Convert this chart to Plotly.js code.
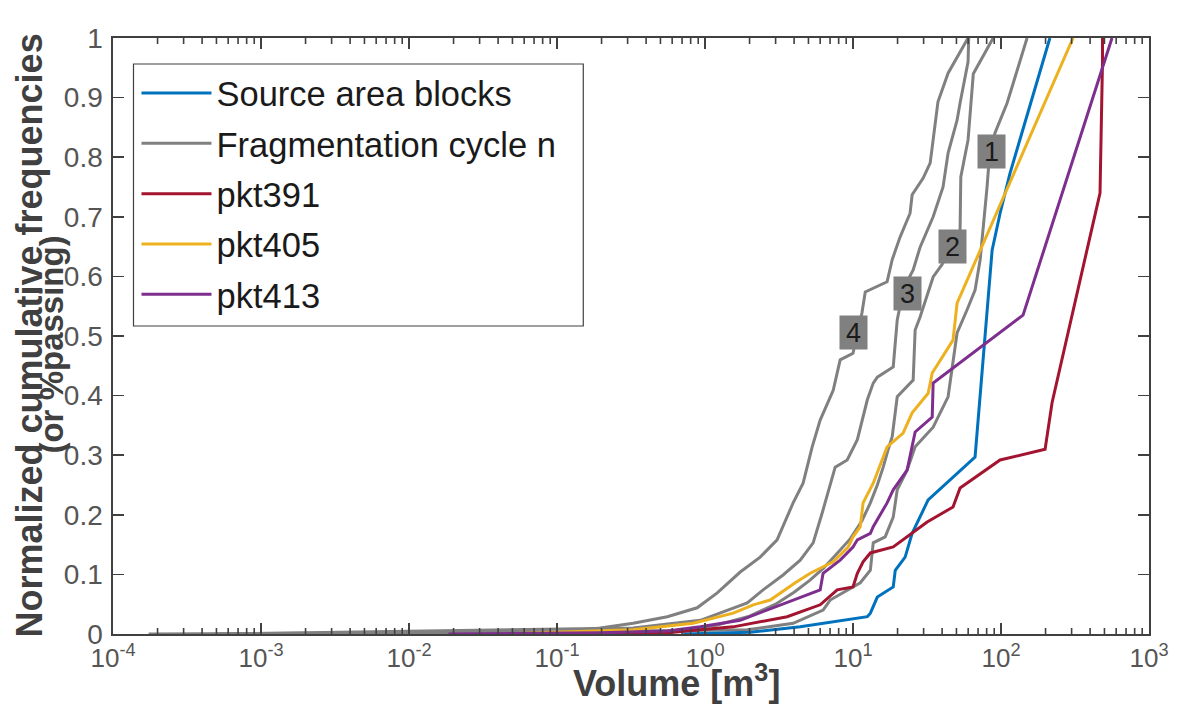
<!DOCTYPE html>
<html>
<head>
<meta charset="utf-8">
<script src="https://cdn.plot.ly/plotly-3.0.1.min.js"></script>
<style>html,body{margin:0;padding:0;background:#fff;}#chart{width:1180px;height:706px;}</style>
</head>
<body>
<div id="chart"></div>
<script>
// ---- data (volume in m^3, normalized cumulative frequency) ----
const cycle4V = [1.74e-4, 0.105, 0.196, 0.327, 0.556, 0.885, 1.21, 1.73, 2.36, 3.07, 3.94, 4.60, 5.30, 6.00, 7.35, 8.19, 10.0, 11.5, 12.1, 17.0, 18.4, 20.8, 24.3, 25.1, 29.8, 33.2, 34.3, 37.5, 43.9, 52.9, 59.9];
const cycle4F = [0, 0.003, 0.010, 0.018, 0.029, 0.044, 0.069, 0.104, 0.129, 0.158, 0.220, 0.253, 0.314, 0.359, 0.409, 0.460, 0.471, 0.539, 0.574, 0.591, 0.628, 0.666, 0.706, 0.737, 0.765, 0.790, 0.817, 0.893, 0.941, 0.975, 1.0];

const cycle3V = [5e-4, 0.327, 0.929, 1.93, 2.47, 3.37, 4.40, 5.38, 6.19, 7.01, 7.58, 9.14, 10.7, 12.5, 13.7, 14.6, 18.7, 19.9, 22.0, 25.5, 28.4, 34.8, 40.6, 43.9, 50.5, 52.9, 59.9, 60.5];
const cycle3F = [0, 0.010, 0.023, 0.052, 0.074, 0.099, 0.124, 0.153, 0.203, 0.253, 0.280, 0.292, 0.326, 0.393, 0.421, 0.431, 0.448, 0.527, 0.580, 0.611, 0.649, 0.700, 0.750, 0.807, 0.862, 0.891, 0.960, 1.0];

const cycle2V = [2e-3, 0.6, 1.21, 2.0, 3.0, 4.0, 5.1, 6.3, 7.8, 9.6, 11.5, 13.1, 14.6, 16.0, 17.3, 18.4, 19.9, 25.5, 26.3, 28.4, 34.8, 40.0, 52.9, 53.5, 59.9, 63.8, 65.0, 88.5];
const cycle2F = [0, 0.005, 0.015, 0.030, 0.050, 0.070, 0.090, 0.110, 0.135, 0.160, 0.190, 0.220, 0.250, 0.280, 0.310, 0.331, 0.398, 0.426, 0.510, 0.532, 0.599, 0.620, 0.678, 0.767, 0.829, 0.904, 0.940, 1.0];

const cycle1V = [1e-2, 1.93, 3.94, 6.28, 7.01, 8.58, 11.2, 13.1, 13.7, 16.5, 18.7, 19.9, 23.2, 26.3, 34.8, 43.9, 50.5, 59.0, 66.8, 72.3, 75.7, 80.5, 84.0, 91.2, 110, 150];
const cycle1F = [0, 0.007, 0.018, 0.040, 0.057, 0.069, 0.086, 0.107, 0.153, 0.163, 0.196, 0.242, 0.275, 0.314, 0.347, 0.398, 0.505, 0.544, 0.577, 0.628, 0.678, 0.750, 0.810, 0.841, 0.891, 1.0];

const sourceV = [0.713, 1.21, 2.02, 4.40, 12.5, 13.1, 14.6, 18.7, 19.3, 22.5, 25.1, 32.2, 66.8, 87.1, 98.6, 115, 214];
const sourceF = [0, 0.002, 0.003, 0.012, 0.029, 0.035, 0.062, 0.079, 0.107, 0.129, 0.169, 0.225, 0.297, 0.644, 0.706, 0.773, 1.0];

const pkt391V = [0.0565, 0.556, 1.55, 3.59, 6.0, 7.82, 10.0, 10.7, 11.7, 13.1, 18.7, 31.7, 47.4, 52.9, 98.6, 198.6, 221.3, 466.7, 485, 485];
const pkt391F = [0, 0.002, 0.012, 0.029, 0.049, 0.074, 0.079, 0.102, 0.121, 0.136, 0.146, 0.188, 0.213, 0.245, 0.292, 0.310, 0.388, 0.740, 0.960, 1.0];

const pkt405V = [0.0414, 0.105, 0.327, 0.832, 1.55, 2.12, 2.76, 4.07, 5.14, 7.35, 9.28, 10.0, 11.2, 11.7, 13.7, 17.0, 21.8, 25.1, 32.2, 34.3, 47.4, 50.5, 306.8];
const pkt405F = [0, 0.003, 0.007, 0.018, 0.035, 0.049, 0.057, 0.086, 0.102, 0.121, 0.146, 0.163, 0.180, 0.220, 0.253, 0.314, 0.337, 0.371, 0.404, 0.438, 0.493, 0.555, 1.0];

const pkt413V = [0.01846, 0.196, 0.556, 0.929, 1.73, 2.63, 3.59, 4.60, 6.0, 6.28, 8.19, 10.0, 10.7, 13.1, 13.7, 17.0, 18.7, 23.2, 26.3, 34.3, 34.8, 140.9, 562.3];
const pkt413F = [0, 0.002, 0.005, 0.012, 0.023, 0.040, 0.052, 0.062, 0.074, 0.102, 0.124, 0.146, 0.158, 0.169, 0.180, 0.220, 0.242, 0.275, 0.339, 0.364, 0.421, 0.535, 1.0];

const seriesNames = ["Source area blocks", "Fragmentation cycle n", "pkt391", "pkt405", "pkt413"];
const cycleLabels = ["1", "2", "3", "4"];
const cycleLabelX = [86.3, 46.8, 23.4, 10.1];
const cycleLabelY = [0.810, 0.651, 0.571, 0.506];
const xTickVals = [1e-4, 1e-3, 1e-2, 1e-1, 1e0, 1e1, 1e2, 1e3];
const xTickText = ["10<sup>-4</sup>", "10<sup>-3</sup>", "10<sup>-2</sup>", "10<sup>-1</sup>", "10<sup>0</sup>", "10<sup>1</sup>", "10<sup>2</sup>", "10<sup>3</sup>"];
const xTitle = "Volume [m<sup>3</sup>]";
const yTitle1 = "Normalized cumulative frequencies";
const yTitle2 = "(or %passing)";

// ---- styling ----
const GRAY = "#808080", BLUE = "#0072BD", RED = "#A2142F", YELLOW = "#EDB120", PURPLE = "#7E2F8E";
const LW = 3;
const FONT = "Liberation Sans, Arial, sans-serif";
const AX = "#404040";
const W = 1180, H = 706, ML = 112.5, MR = 31, MT = 38, MB = 72;
const PW = W - ML - MR, PH = H - MT - MB;
const px2paperX = p => (p - ML) / PW;
const px2paperY = p => (H - MB - p) / PH;

function tr(x, y, name, color, show, rank, group) {
  return {x: x, y: y, type: "scatter", mode: "lines", name: name, legendgroup: group,
    line: {color: color, width: LW}, showlegend: show, legendrank: rank, hoverinfo: "skip"};
}
const traces = [
  tr(cycle4V, cycle4F, seriesNames[1], GRAY, false, 2, "g2"),
  tr(cycle3V, cycle3F, seriesNames[1], GRAY, false, 2, "g2"),
  tr(cycle2V, cycle2F, seriesNames[1], GRAY, false, 2, "g2"),
  tr(cycle1V, cycle1F, seriesNames[1], GRAY, true, 2, "g2"),
  tr(sourceV, sourceF, seriesNames[0], BLUE, true, 1, "g1"),
  tr(pkt391V, pkt391F, seriesNames[2], RED, true, 3, "g3"),
  tr(pkt405V, pkt405F, seriesNames[3], YELLOW, true, 4, "g4"),
  tr(pkt413V, pkt413F, seriesNames[4], PURPLE, true, 5, "g5")
];

const annotations = cycleLabels.map((t, i) => ({
  x: Math.log10(cycleLabelX[i]), y: cycleLabelY[i], xref: "x", yref: "y", text: t, showarrow: false,
  font: {family: FONT, size: 27, color: "#1a1a1a"},
  bgcolor: GRAY, width: 23, height: 29, borderpad: 2, align: "center", valign: "middle"
}));
annotations.push({
  xref: "paper", yref: "paper", x: px2paperX(28), y: px2paperY(336), xanchor: "center", yanchor: "middle",
  text: yTitle1, textangle: -90, showarrow: false,
  font: {family: FONT, size: 36, color: AX, weight: "bold"}
});
annotations.push({
  xref: "paper", yref: "paper", x: px2paperX(50), y: px2paperY(345), xanchor: "center", yanchor: "middle",
  text: yTitle2, textangle: -90, showarrow: false,
  font: {family: FONT, size: 33, color: AX, weight: "bold"}
});
annotations.push({
  xref: "paper", yref: "paper", x: px2paperX(676), y: px2paperY(681), xanchor: "center", yanchor: "middle",
  text: xTitle, showarrow: false,
  font: {family: FONT, size: 36, color: AX, weight: "bold"}
});

// legend frame
const shapes = [{
  type: "rect", xref: "paper", yref: "paper", layer: "above",
  x0: px2paperX(133), x1: px2paperX(583), y0: px2paperY(326), y1: px2paperY(64),
  line: {color: AX, width: 1.2}, fillcolor: "#ffffff"
}];
// minor log ticks (2..9 of each decade), bottom and top, inside the frame
const minorLen = 6 / PH;
for (let e = -4; e < 3; e++) {
  for (let m = 2; m <= 9; m++) {
    const v = m * Math.pow(10, e);
    shapes.push({type: "line", xref: "x", yref: "paper", x0: v, x1: v, y0: 0, y1: minorLen,
      line: {color: AX, width: 1.6}, layer: "above"});
    shapes.push({type: "line", xref: "x", yref: "paper", x0: v, x1: v, y0: 1 - minorLen, y1: 1,
      line: {color: AX, width: 1.6}, layer: "above"});
  }
}

const layout = {
  width: W, height: H,
  margin: {l: ML, r: MR, t: MT, b: MB},
  paper_bgcolor: "#ffffff", plot_bgcolor: "#ffffff",
  showlegend: true,
  legend: {
    x: px2paperX(136), y: px2paperY(64), xanchor: "left", yanchor: "top",
    bgcolor: "rgba(0,0,0,0)", borderwidth: 0,
    font: {family: FONT, size: 34.5, color: "#1a1a1a"},
    itemwidth: 70, tracegroupgap: 2.5, traceorder: "grouped"
  },
  xaxis: {
    type: "log", range: [-4, 3], tickmode: "array", tickvals: xTickVals, ticktext: xTickText,
    showline: true, linecolor: AX, linewidth: 1.6, mirror: "ticks",
    ticks: "inside", ticklen: 11, tickwidth: 1.6, tickcolor: AX,
    showgrid: false, zeroline: false,
    tickfont: {family: FONT, size: 26, color: "#555555"}
  },
  yaxis: {
    range: [0, 1], tickmode: "linear", tick0: 0, dtick: 0.1,
    showline: true, linecolor: AX, linewidth: 1.6, mirror: "ticks",
    ticks: "inside", ticklen: 11, tickwidth: 1.6, tickcolor: AX, ticklabelstandoff: 3,
    showgrid: false, zeroline: false,
    tickfont: {family: FONT, size: 28, color: "#555555"}
  },
  annotations: annotations,
  shapes: shapes
};

Plotly.newPlot("chart", traces, layout, {displayModeBar: false, staticPlot: true});
</script>
</body>
</html>
